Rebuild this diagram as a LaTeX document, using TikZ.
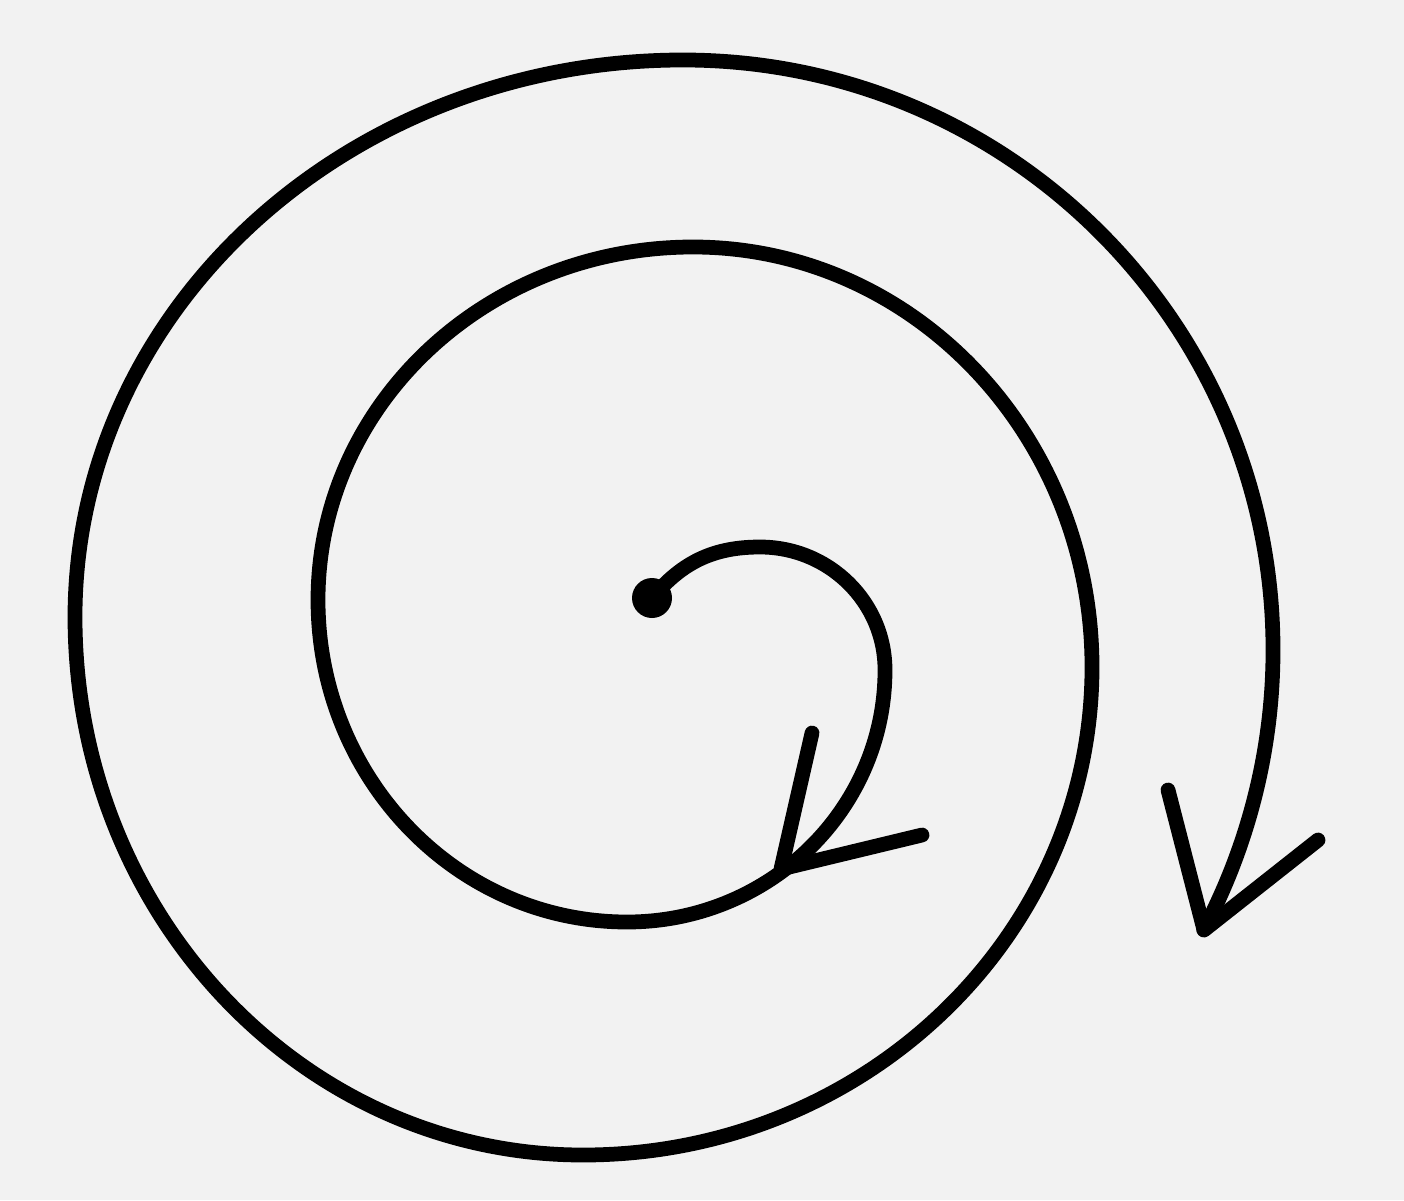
\documentclass[tikz,border=0pt]{standalone}
\usepackage{tikz}

\definecolor{paper}{gray}{0.95}

\begin{document}
\begin{tikzpicture}[
        curl/.style={line width=4.2pt, line cap=round, line join=round},
        dot/.style={circle, fill=black, inner sep=0pt, minimum size=0.4cm}
    ]
        \fill[paper] (0,0) rectangle (14.04,12);
        \useasboundingbox (0,0) rectangle (14.04,12);
        \node[dot] (start) at (6.52,6.02) {};
        \coordinate (hooktop) at (7.60,6.53);
        \coordinate (tipA) at (7.81,3.31);
        \coordinate (tipB) at (12.04,2.70);
        % the spiral, one quarter turn per arc
        \draw[curl] (start.center) to[out=50,in=180] (hooktop)
            arc[start angle=90, end angle=0, x radius=1.25, y radius=1.23]
            arc[start angle=0, end angle=-90, x radius=2.58, y radius=2.52]
            arc[start angle=-90, end angle=-180, x radius=3.09, y radius=3.22]
            arc[start angle=-180, end angle=-270, x radius=3.75, y radius=3.53]
            arc[start angle=-270, end angle=-360, x radius=3.99, y radius=4.20]
            arc[start angle=0, end angle=-90, x radius=5.09, y radius=4.88]
            arc[start angle=-90, end angle=-180, x radius=5.08, y radius=5.38]
            arc[start angle=-180, end angle=-270, x radius=6.08, y radius=5.57]
            arc[start angle=90, end angle=0, x radius=5.90, y radius=5.90]
            arc[start angle=0, end angle=-27.8, radius=6.00];
        % arrow heads
        \draw[curl] (8.12,4.67) -- (tipA) -- (9.22,3.65);
        \draw[curl] (11.68,4.10) -- (tipB) -- (13.18,3.60);
\end{tikzpicture}
\end{document}
